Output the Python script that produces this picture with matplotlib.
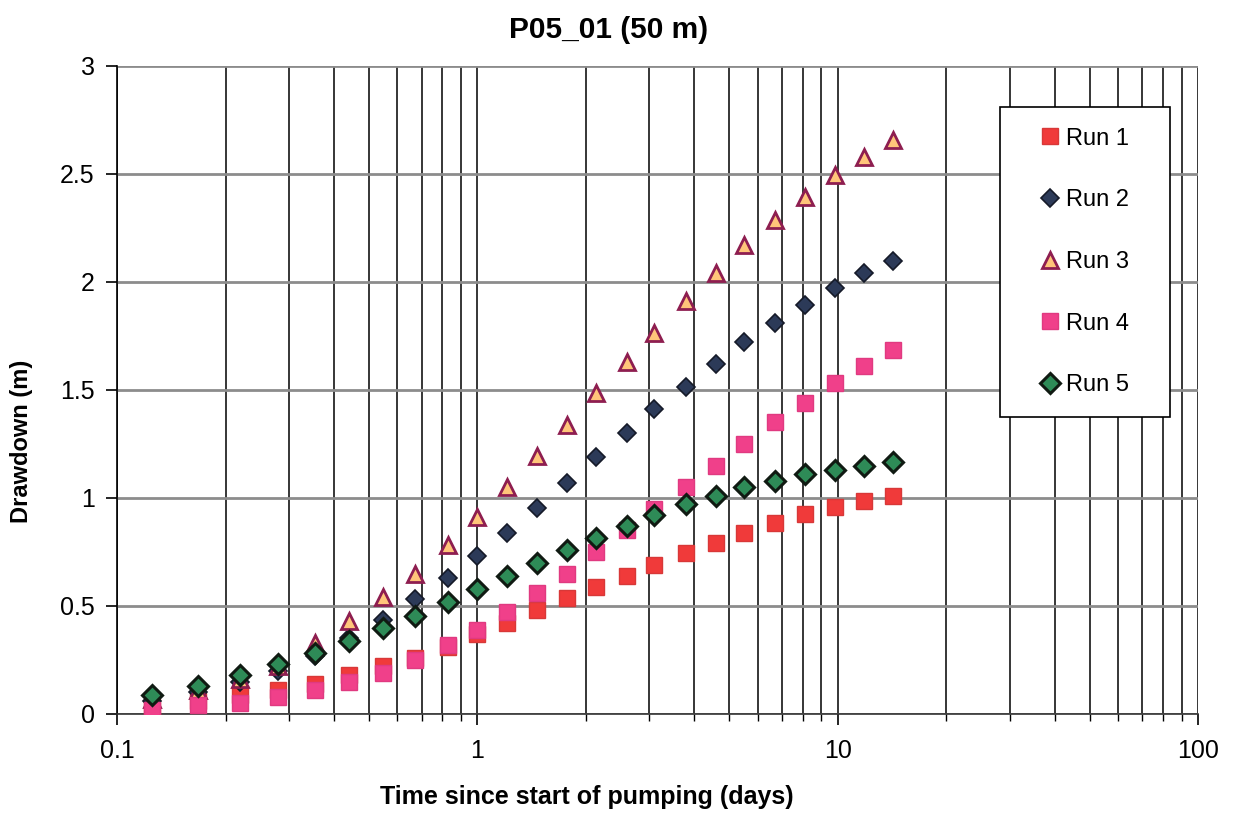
import matplotlib.pyplot as plt
from matplotlib.lines import Line2D
from matplotlib.legend_handler import HandlerLine2D
from matplotlib.ticker import LogLocator, NullFormatter, FixedLocator

plt.rcParams['font.family'] = ['Liberation Sans', 'DejaVu Sans']

# time since start of pumping (days)
days = [0.125, 0.168, 0.22, 0.28, 0.355, 0.44, 0.548, 0.673, 0.83, 1.0,
        1.21, 1.46, 1.77, 2.14, 2.6, 3.1, 3.8, 4.6, 5.5, 6.7,
        8.1, 9.8, 11.8, 14.2]

# drawdown (m) for each run
run1 = [0.03, 0.06, 0.09, 0.11, 0.14, 0.18, 0.22, 0.26, 0.31, 0.37,
        0.42, 0.48, 0.535, 0.59, 0.64, 0.69, 0.745, 0.79, 0.84, 0.885,
        0.925, 0.96, 0.985, 1.01]
run2 = [0.06, 0.10, 0.15, 0.20, 0.27, 0.35, 0.435, 0.53, 0.63, 0.73,
        0.84, 0.955, 1.07, 1.19, 1.30, 1.41, 1.515, 1.62, 1.72, 1.81,
        1.895, 1.97, 2.04, 2.095]
run3 = [0.07, 0.11, 0.16, 0.22, 0.33, 0.43, 0.54, 0.65, 0.78, 0.91,
        1.05, 1.195, 1.34, 1.485, 1.63, 1.765, 1.91, 2.04, 2.17, 2.285,
        2.395, 2.495, 2.58, 2.655]
run4 = [0.02, 0.04, 0.05, 0.08, 0.11, 0.15, 0.19, 0.25, 0.32, 0.39,
        0.47, 0.56, 0.65, 0.75, 0.85, 0.95, 1.05, 1.15, 1.25, 1.35,
        1.44, 1.53, 1.61, 1.685]
run5 = [0.09, 0.13, 0.18, 0.23, 0.28, 0.34, 0.40, 0.455, 0.52, 0.58,
        0.64, 0.70, 0.76, 0.815, 0.87, 0.92, 0.97, 1.01, 1.05, 1.08,
        1.11, 1.13, 1.15, 1.165]

fig = plt.figure(figsize=(12.41, 8.14), dpi=100)
ax = fig.add_axes([0.0943, 0.1229, 0.8711, 0.7961])

ax.plot(days, run1, 's', ms=11, color='#F03A3A', mec='#D83838', mew=1, label='Run 1', zorder=3)
ax.plot(days, run2, 'D', ms=9, color='#2C3A58', mec='#151A28', mew=1.2, label='Run 2', zorder=3)
ax.plot(days, run3, '^', ms=11.5, color='#FFC57A', mec='#8E1E50', mew=2, label='Run 3', zorder=3)
ax.plot(days, run4, 's', ms=11, color='#F0408A', mec='#E03A80', mew=1, label='Run 4', zorder=3)
ax.plot(days, run5, 'D', ms=10, color='#2E8B57', mec='#101A12', mew=2.2, label='Run 5', zorder=3)

ax.set_xscale('log')
ax.set_xlim(0.1, 100)
ax.set_ylim(0, 3)
ax.yaxis.set_major_locator(FixedLocator([0, 0.5, 1, 1.5, 2, 2.5, 3]))
ax.set_yticklabels(['0', '0.5', '1', '1.5', '2', '2.5', '3'])
ax.xaxis.set_major_locator(FixedLocator([0.1, 1, 10, 100]))
ax.set_xticklabels(['0.1', '1', '10', '100'])
ax.xaxis.set_minor_locator(LogLocator(base=10, subs=range(2, 10)))
ax.xaxis.set_minor_formatter(NullFormatter())

# grid: black verticals at every log tick, grey horizontals
ax.grid(True, which='both', axis='x', color='black', lw=1.1)
ax.grid(True, which='major', axis='y', color='#8C8C8C', lw=2)
ax.set_axisbelow(True)

for s in ['top', 'right']:
    ax.spines[s].set_visible(False)
ax.spines['left'].set_linewidth(1.2)
ax.spines['bottom'].set_linewidth(1.2)
ax.spines['bottom'].set_color('#333333')

ax.tick_params(axis='both', which='major', labelsize=18, length=8, width=1.2, direction='out')
ax.tick_params(axis='x', which='minor', length=5, width=1)
ax.tick_params(axis='x', which='major', pad=10)
ax.tick_params(axis='y', which='major', pad=8)

fig.text(0.49, 1 - 30 / 814, 'P05_01 (50 m)', fontsize=21.5, fontweight='bold',
         ha='center', va='center')
ax.set_xlabel('Time since start of pumping (days)', fontsize=18, fontweight='bold')
ax.xaxis.label.set_va('center')
ax.xaxis.set_label_coords(0.435, -0.128)
ax.set_ylabel('Drawdown (m)', fontsize=17, fontweight='bold')
ax.yaxis.label.set_va('center')
ax.yaxis.set_label_coords(-0.088, 0.42)

leg = ax.legend(loc='upper left', bbox_to_anchor=(0.817, 0.469, 0.1573, 0.468), mode='expand',
                fontsize=17, fancybox=False, framealpha=1, edgecolor='black',
                labelspacing=1.68, borderpad=0.88, handletextpad=0.15, handlelength=1.76,
                borderaxespad=0, markerscale=1,
                handler_map={Line2D: HandlerLine2D(xpad=0.72)})
leg.get_frame().set_linewidth(1.2)

fig.savefig('out.png', dpi=100)
